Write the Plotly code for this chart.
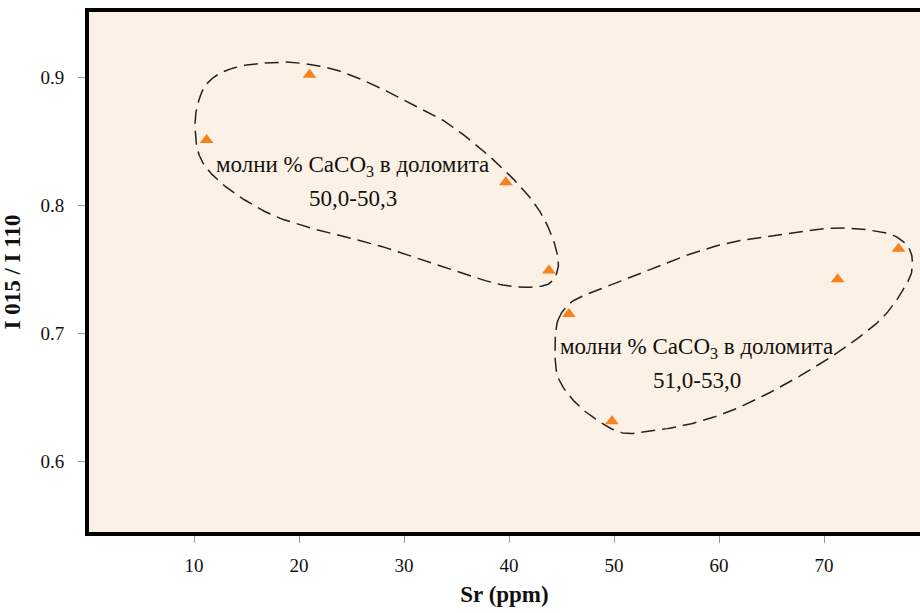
import numpy as np
import plotly.graph_objects as go

# ---- data ----
sr_ppm = [11.2, 21.0, 39.7, 43.8, 45.7, 49.8, 71.3, 77.1]
intensity_ratio = [0.851, 0.902, 0.818, 0.749, 0.715, 0.631, 0.742, 0.766]

x_ticks = [10, 20, 30, 40, 50, 60, 70]
y_ticks = [0.6, 0.7, 0.8, 0.9]

# dashed group outlines (data units, control points of a closed curve)
group1_x = [10.10, 10.38, 11.05, 12.29, 14.38, 16.48, 19.14, 22.95, 26.57, 30.57, 33.71, 38.86, 42.67,
            44.38, 44.67, 43.90, 42.00, 39.43, 34.67, 29.90, 26.76, 21.81, 17.05, 12.29, 10.57]
group1_y = [0.864, 0.8797, 0.893, 0.9023, 0.9086, 0.9109, 0.9117, 0.907, 0.8961, 0.8797, 0.8664, 0.8328, 0.7984,
            0.7688, 0.7508, 0.7391, 0.7359, 0.7375, 0.7492, 0.7625, 0.7703, 0.7805, 0.7938, 0.8195, 0.8375]
group2_x = [44.67, 45.81, 48.67, 50.86, 55.62, 60.76, 65.81, 70.57, 74.38, 76.95, 78.19, 78.38,
            77.52, 75.62, 72.19, 68.19, 64.38, 60.86, 57.24, 53.43, 50.86, 48.38, 46.10, 44.67, 44.38]
group2_y = [0.7102, 0.7234, 0.7344, 0.7414, 0.757, 0.7703, 0.7766, 0.782, 0.7805, 0.775, 0.7648, 0.7492,
            0.7336, 0.7125, 0.6898, 0.6688, 0.6516, 0.6383, 0.6289, 0.6234, 0.6219, 0.632, 0.6477, 0.6656, 0.6891]

label_line1 = ["молни % CaCO<sub>3</sub> в доломита", "молни % CaCO<sub>3</sub> в доломита"]
label_line2 = ["50,0-50,3", "51,0-53,0"]
label_x = [25.1, 57.9]
label_y1 = [0.8305, 0.6885]
label_y2 = [0.8055, 0.6633]

FONT = "Liberation Serif"
X_RANGE = [0, 79.14]
Y_RANGE = [0.5445, 0.951]


def closed_curve(xs, ys, n=16):
    """Smooth closed outline (centripetal Catmull-Rom) through the control points,
    computed in screen-proportional space."""
    sx = (X_RANGE[1] - X_RANGE[0]) / 831.0
    sy = (Y_RANGE[1] - Y_RANGE[0]) / 520.0
    P = np.column_stack([np.asarray(xs) / sx, np.asarray(ys) / sy])
    m = len(P)
    out = []
    for i in range(m):
        p0, p1, p2, p3 = P[(i - 1) % m], P[i], P[(i + 1) % m], P[(i + 2) % m]
        t0 = 0.0
        t1 = t0 + np.linalg.norm(p1 - p0) ** 0.5
        t2 = t1 + np.linalg.norm(p2 - p1) ** 0.5
        t3 = t2 + np.linalg.norm(p3 - p2) ** 0.5
        for t in np.linspace(t1, t2, n, endpoint=False):
            a1 = (t1 - t) / (t1 - t0) * p0 + (t - t0) / (t1 - t0) * p1
            a2 = (t2 - t) / (t2 - t1) * p1 + (t - t1) / (t2 - t1) * p2
            a3 = (t3 - t) / (t3 - t2) * p2 + (t - t2) / (t3 - t2) * p3
            b1 = (t2 - t) / (t2 - t0) * a1 + (t - t0) / (t2 - t0) * a2
            b2 = (t3 - t) / (t3 - t1) * a2 + (t - t1) / (t3 - t1) * a3
            out.append((t2 - t) / (t2 - t1) * b1 + (t - t1) / (t2 - t1) * b2)
    out.append(out[0])
    out = np.array(out)
    return out[:, 0] * sx, out[:, 1] * sy


fig = go.Figure()

for gx, gy in [(group1_x, group1_y), (group2_x, group2_y)]:
    cx, cy = closed_curve(gx, gy)
    fig.add_trace(go.Scatter(
        x=cx, y=cy, mode="lines",
        line=dict(color="#222222", width=1.5, dash="14px,7px"),
        hoverinfo="skip", showlegend=False))

fig.add_trace(go.Scatter(
    x=sr_ppm, y=intensity_ratio, mode="markers",
    marker=dict(symbol="triangle-up", size=12, color="#f5821f", line=dict(width=0)),
    showlegend=False))

for t1, t2, lx, y1, y2 in zip(label_line1, label_line2, label_x, label_y1, label_y2):
    fig.add_annotation(x=lx, y=y1, text=t1, showarrow=False,
                       font=dict(family=FONT, size=23, color="#111111"))
    fig.add_annotation(x=lx, y=y2, text=t2, showarrow=False,
                       font=dict(family=FONT, size=23, color="#111111"))

fig.update_layout(
    width=920, height=613,
    margin=dict(l=89, r=0, t=12, b=81, autoexpand=False),
    paper_bgcolor="white", plot_bgcolor="#fcf1e5",
    font=dict(family=FONT, size=19, color="#111111"),
    xaxis=dict(range=X_RANGE, tickvals=x_ticks, showgrid=False, zeroline=False,
               showline=True, linecolor="black", linewidth=4, mirror=True, automargin=False,
               ticks="outside", ticklen=7, tickcolor="#999999", tickwidth=1,
               ticklabelstandoff=6,
               title=dict(text="<b>Sr (ppm)</b>", font=dict(family=FONT, size=23), standoff=12)),
    yaxis=dict(range=Y_RANGE, tickvals=y_ticks, tickformat=".1f", showgrid=False,
               zeroline=False, showline=True, linecolor="black", linewidth=4, mirror=False,
               automargin=False,
               ticks="outside", ticklen=7, tickcolor="#999999", tickwidth=1,
               ticklabelstandoff=10,
               title=dict(text="<b>I 015 / I 110</b>", font=dict(family=FONT, size=23), standoff=14)),
)

fig.write_html("out.html", config={"displayModeBar": False},
               post_script="document.body.style.margin='0';document.body.style.overflow='hidden';")
